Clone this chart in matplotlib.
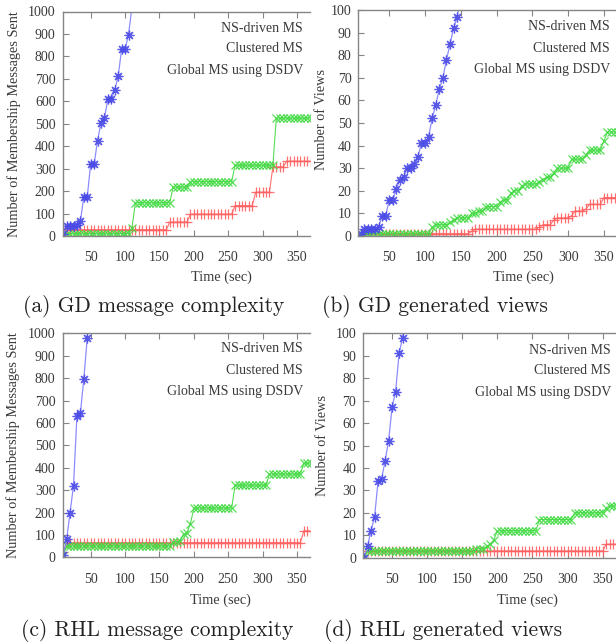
import matplotlib.pyplot as plt

W, H = 616, 644

# sample times (sec)
t = [10, 15, 20, 25, 30, 35, 40, 45, 50, 55,
     60, 65, 70, 75, 80, 85, 90, 95, 100, 105,
     110, 115, 120, 125, 130, 135, 140, 145, 150, 155,
     160, 165, 170, 175, 180, 185, 190, 195, 200, 205,
     210, 215, 220, 225, 230, 235, 240, 245, 250, 255,
     260, 265, 270, 275, 280, 285, 290, 295, 300, 305,
     310, 315, 320, 325, 330, 335, 340, 345, 350, 355,
     360, 365, 370]

labels = ["NS-driven MS", "Clustered MS", "Global MS using DSDV"]
captions = ["(a) GD message complexity", "(b) GD generated views",
            "(c) RHL message complexity", "(d) RHL generated views"]
ylabels = ["Number of Membership Messages Sent", "Number of Views",
           "Number of Membership Messages Sent", "Number of Views"]
xticks = [50, 100, 150, 200, 250, 300, 350]

# (a) GD messages
gd_msg_ns = [28, 28, 28, 28, 28, 28, 28, 28, 28, 28,
             28, 28, 28, 28, 28, 28, 28, 28, 28, 28,
             28, 28, 28, 28, 28, 28, 28, 28, 28, 28,
             28, 62, 62, 62, 62, 62, 62, 97, 97, 97,
             97, 97, 97, 97, 97, 97, 97, 97, 97, 97,
             135, 135, 135, 135, 135, 135, 195, 195, 195, 195,
             195, 308, 308, 308, 308, 333, 333, 333, 333, 333,
             333, 333, 333]
gd_msg_cl = [10, 10, 10, 10, 10, 10, 10, 10, 10, 10,
             10, 10, 10, 10, 10, 10, 10, 10, 10, 10,
             37, 148, 148, 148, 148, 148, 148, 148, 148, 148,
             148, 148, 218, 218, 218, 218, 218, 242, 242, 242,
             242, 242, 242, 242, 242, 242, 242, 242, 242, 242,
             315, 315, 315, 315, 315, 315, 315, 315, 315, 315,
             315, 315, 525, 525, 525, 525, 525, 525, 525, 525,
             525, 525, 525]
gd_msg_gl = [10, 45, 45, 45, 48, 65, 175, 175, 320, 320,
             425, 505, 525, 610, 610, 650, 712, 832, 832, 895,
             1020]

# (b) GD views
gd_view_ns = [1, 1, 1, 1, 1, 1, 1, 1, 1, 1,
              1, 1, 1, 1, 1, 1, 1, 1, 1, 1,
              1, 1, 1, 1, 1, 1, 1, 1, 1, 1,
              1, 2, 3, 3, 3, 3, 3, 3, 3, 3,
              3, 3, 3, 3, 3, 3, 3, 3, 3, 3,
              4, 5, 5, 5, 7, 8, 8, 8, 8, 9,
              11, 11, 11, 12, 14, 14, 14, 14, 17, 17,
              17, 17, 17]
gd_view_cl = [1, 1, 1, 1, 1, 1, 1, 1, 1, 1,
              1, 1, 1, 1, 1, 1, 1, 1, 1, 1,
              4, 5, 5, 5, 5, 6, 7, 8, 8, 8,
              8, 10, 10, 11, 11, 13, 13, 13, 13, 15,
              16, 16, 19, 20, 20, 22, 23, 23, 23, 23,
              24, 25, 26, 26, 28, 30, 30, 30, 30, 34,
              34, 34, 34, 36, 38, 38, 38, 38, 42, 46,
              46, 46, 46]
gd_view_gl = [1, 3, 3, 3, 3, 4, 9, 9, 16, 16,
              21, 25, 26, 30, 30, 32, 35, 41, 41, 44,
              52, 58, 65, 70, 78, 85, 92, 97, 106]

# (c) RHL messages
rhl_msg_ns = [25, 65, 65, 65, 65, 65, 65, 65, 65, 65,
              65, 65, 65, 65, 65, 65, 65, 65, 65, 65,
              65, 65, 65, 65, 65, 65, 65, 65, 65, 65,
              65, 65, 65, 65, 65, 65, 65, 65, 65, 65,
              65, 65, 65, 65, 65, 65, 65, 65, 65, 65,
              65, 65, 65, 65, 65, 65, 65, 65, 65, 65,
              65, 65, 65, 65, 65, 65, 65, 65, 65, 65,
              118, 118, 118]
rhl_msg_cl = [5, 50, 50, 50, 50, 50, 50, 50, 50, 50,
              50, 50, 50, 50, 50, 50, 50, 50, 50, 50,
              50, 50, 50, 50, 50, 50, 50, 50, 50, 50,
              50, 50, 68, 70, 72, 105, 108, 150, 218, 220,
              220, 220, 220, 220, 220, 220, 220, 220, 220, 220,
              322, 322, 322, 322, 322, 322, 322, 322, 322, 322,
              372, 372, 372, 372, 372, 372, 372, 372, 372, 372,
              420, 420, 420]
rhl_msg_gl = [10, 80, 200, 320, 630, 645, 795, 980, 1200]

# (d) RHL views
rhl_view_ns = [0, 3, 3, 3, 3, 3, 3, 3, 3, 3,
               3, 3, 3, 3, 3, 3, 3, 3, 3, 3,
               3, 3, 3, 3, 3, 3, 3, 3, 3, 3,
               3, 3, 3, 3, 3, 3, 3, 3, 3, 3,
               3, 3, 3, 3, 3, 3, 3, 3, 3, 3,
               3, 3, 3, 3, 3, 3, 3, 3, 3, 3,
               3, 3, 3, 3, 3, 3, 3, 3, 3, 6,
               6, 6, 6]
rhl_view_cl = [0, 3, 3, 3, 3, 3, 3, 3, 3, 3,
               3, 3, 3, 3, 3, 3, 3, 3, 3, 3,
               3, 3, 3, 3, 3, 3, 3, 3, 3, 3,
               3, 3, 4, 4, 4, 5, 6, 8, 12, 12,
               12, 12, 12, 12, 12, 12, 12, 12, 12, 12,
               17, 17, 17, 17, 17, 17, 17, 17, 17, 17,
               20, 20, 20, 20, 20, 20, 20, 20, 20, 22,
               23, 23, 23]
rhl_view_gl = [0, 5, 12, 18, 34, 35, 43, 52, 67, 74,
               91, 98, 110]

RED = "#ff6262"
GREEN = "#44da44"
BLUE_LINE = "#8080ff"
BLUE_MK = "#4a4ae6"
TXT = "#3a3a3a"
SPINE = "#858585"

plt.rcParams['font.family'] = ['Liberation Serif', 'DejaVu Serif']

fig = plt.figure(figsize=(W / 100, H / 100), dpi=100)


def fx(x):
    return x / W


def fy(y):
    return 1 - y / H


def panel(l, r, top, bot, xlim, ymax, ystep, ns, cl, gl):
    ax = fig.add_axes([fx(l), fy(bot), fx(r - l), (bot - top) / H])
    ax.plot(t[:len(ns)], ns, color=RED, lw=0.8, marker='+', ms=6.5, mew=0.9, alpha=0.9)
    ax.plot(t[:len(cl)], cl, color=GREEN, lw=0.8, marker='x', ms=5.5, mew=0.9, alpha=0.9)
    ax.plot(t[:len(gl)], gl, color=BLUE_LINE, lw=0.9, marker=(8, 2, 0), ms=7,
            mew=0.9, mec=BLUE_MK, alpha=0.9)
    ax.set_xlim(*xlim)
    ax.set_ylim(0, ymax)
    ax.set_xticks(xticks)
    ax.set_yticks(range(0, ymax + 1, ystep))
    ax.spines['right'].set_visible(False)
    for s in ['left', 'top', 'bottom']:
        ax.spines[s].set_color(SPINE)
        ax.spines[s].set_linewidth(1.0)
    ax.tick_params(direction='in', top=True, right=False, length=4, width=0.8,
                   color=SPINE, labelcolor=TXT, labelsize=10)
    ax.tick_params(axis='x', pad=11)
    ax.tick_params(axis='y', pad=5)
    return ax


panel(62.5, 310, 11.5, 236, (9, 369), 1000, 100, gd_msg_ns, gd_msg_cl, gd_msg_gl)
panel(358.5, 616, 10, 236, (7, 367), 100, 10, gd_view_ns, gd_view_cl, gd_view_gl)
panel(62.5, 310, 333.3, 557.3, (9, 369), 1000, 100, rhl_msg_ns, rhl_msg_cl, rhl_msg_gl)
panel(363.3, 616, 333.3, 557.7, (9, 369), 100, 10, rhl_view_ns, rhl_view_cl, rhl_view_gl)

# legend texts (the key samples sit beyond the visible area)
for (xr, ys) in [(303, (28, 49, 70.5)), (610, (27, 48, 70)),
                 (303, (349, 370.5, 391.5)), (611, (350, 370.5, 392.5))]:
    for lab, yy in zip(labels, ys):
        fig.text(fx(xr), fy(yy), lab, ha='right', va='center', fontsize=10, color=TXT)

# axis titles
for (xc, yc, lab) in [(14.5, 124, ylabels[0]), (321.5, 119, ylabels[1]),
                      (13.5, 445, ylabels[2]), (323, 446, ylabels[3])]:
    fig.text(fx(xc), fy(yc), lab, rotation=90, ha='center', va='center',
             fontsize=10.3, color=TXT)
for (xc, yc) in [(221, 277), (523, 277), (220, 600), (527, 600)]:
    fig.text(fx(xc), fy(yc), "Time (sec)", ha='center', va='center',
             fontsize=10.3, color=TXT)

# sub-captions
for (xl, yc, cap) in [(23, 307, captions[0]), (322, 307, captions[1]),
                      (21, 630, captions[2]), (324, 630, captions[3])]:
    fig.text(fx(xl), fy(yc), cap, ha='left', va='center', fontsize=15.5,
             family='cmr10', color='#222222')

fig.savefig("out.png", dpi=100)
